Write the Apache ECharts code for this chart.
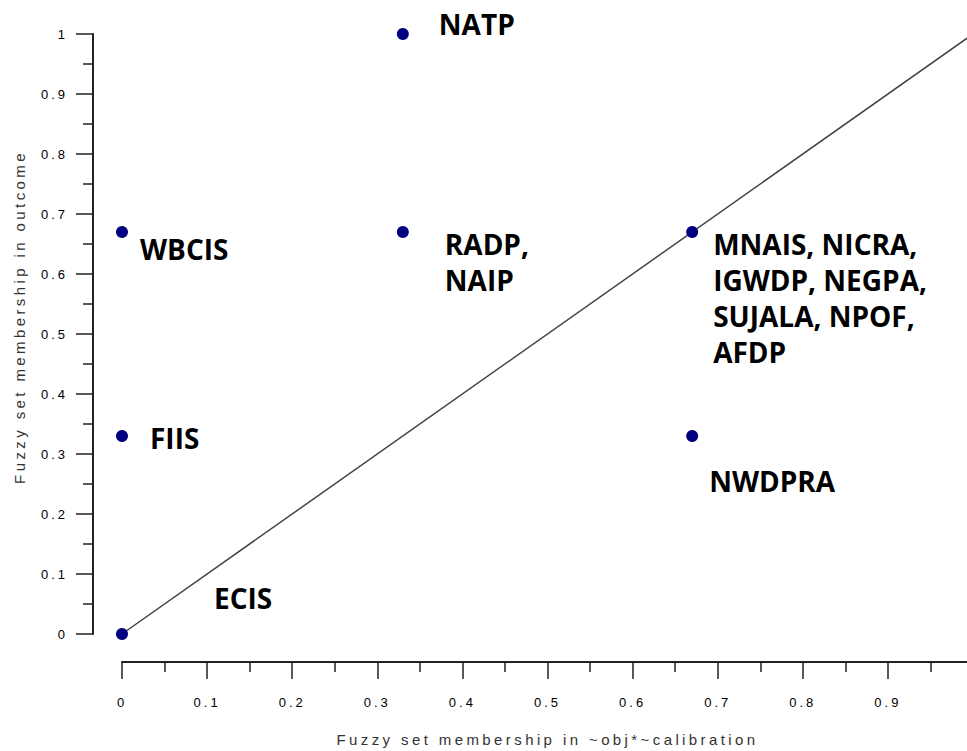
<!DOCTYPE html>
<html>
<head>
<meta charset="utf-8">
<script src="https://cdn.jsdelivr.net/npm/echarts@6/dist/echarts.min.js"></script>
<style>
  html, body { margin: 0; padding: 0; background: #fff; }
  #chart { width: 967px; height: 751px; }
  #chart text[style*="Liberation Sans"] { letter-spacing: 3px; }
  #chart text[style*="Liberation Sans"][style*="15px"] { letter-spacing: 3.4px; }
</style>
</head>
<body>
<div id="chart"></div>
<script>
// ---- data ----
const caseNames = ['NATP', 'WBCIS', 'RADP,\nNAIP', 'MNAIS, NICRA,\nIGWDP, NEGPA,\nSUJALA, NPOF,\nAFDP', 'FIIS', 'NWDPRA', 'ECIS'];
const xValues = [0.33, 0, 0.33, 0.67, 0, 0.67, 0];
const yValues = [1, 0.67, 0.67, 0.67, 0.33, 0.33, 0];
const diagonalX = [0, 1];
const diagonalY = [0, 1];
const xAxisTitle = 'Fuzzy set membership in ~obj*~calibration';
const yAxisTitle = 'Fuzzy set membership in outcome';

// ---- styling (label offsets from each dot centre) ----
const labelOffsets = [[36, -10], [18, 17], [42, 30], [21, 66], [28, 2], [17, 45], [92, -36]];

const axisFont = 'Liberation Sans';
const labelFont = 'Open Sans';

const chart = echarts.init(document.getElementById('chart'), null, { renderer: 'svg' });

const scatterData = caseNames.map((n, i) => ({
  name: n,
  value: [xValues[i], yValues[i]],
  label: { offset: labelOffsets[i] }
}));

const axisCommon = {
  type: 'value',
  min: 0,
  max: 1,
  interval: 0.1,
  splitLine: { show: false },
  axisLine: { show: true, onZero: false, lineStyle: { color: '#222', width: 2 } },
  axisTick: { show: true, inside: false, length: 17, lineStyle: { color: '#222', width: 1.5 } },
  minorTick: { show: true, splitNumber: 2, length: 10, lineStyle: { color: '#222', width: 1.5 } },
  minorSplitLine: { show: false },
  nameLocation: 'middle'
};

const option = {
  backgroundColor: '#fff',
  animation: false,
  grid: { left: 122, top: 34, width: 851, height: 600, containLabel: false, outerBoundsMode: 'none' },
  xAxis: Object.assign({}, axisCommon, {
    offset: 28,
    name: xAxisTitle,
    nameGap: 70,
    nameTextStyle: { fontFamily: axisFont, fontSize: 15, color: '#333' },
    axisLabel: {
      margin: 34,
      fontFamily: axisFont, fontSize: 13, color: '#000',
      formatter: v => (v >= 1 ? '' : String(Math.round(v * 10) / 10))
    }
  }),
  yAxis: Object.assign({}, axisCommon, {
    offset: 29,
    name: yAxisTitle,
    nameGap: 66,
    nameTextStyle: { fontFamily: axisFont, fontSize: 15, color: '#333', padding: [0, 0, 0, 34] },
    axisLabel: {
      margin: 25,
      fontFamily: axisFont, fontSize: 13, color: '#000',
      formatter: v => String(Math.round(v * 10) / 10)
    }
  }),
  series: [
    {
      type: 'line',
      data: diagonalX.map((x, i) => [x, diagonalY[i]]),
      symbol: 'none',
      lineStyle: { color: '#444', width: 1.5 },
      z: 1,
      silent: true
    },
    {
      type: 'scatter',
      data: scatterData,
      symbolSize: 12,
      itemStyle: { color: '#000080', opacity: 1 },
      z: 3,
      label: {
        show: true,
        position: 'inside',
        align: 'left',
        verticalAlign: 'middle',
        formatter: p => p.name,
        fontFamily: labelFont,
        fontWeight: 'bold',
        fontSize: 28,
        lineHeight: 36,
        color: '#000'
      }
    }
  ]
};

chart.setOption(option);
</script>
</body>
</html>
